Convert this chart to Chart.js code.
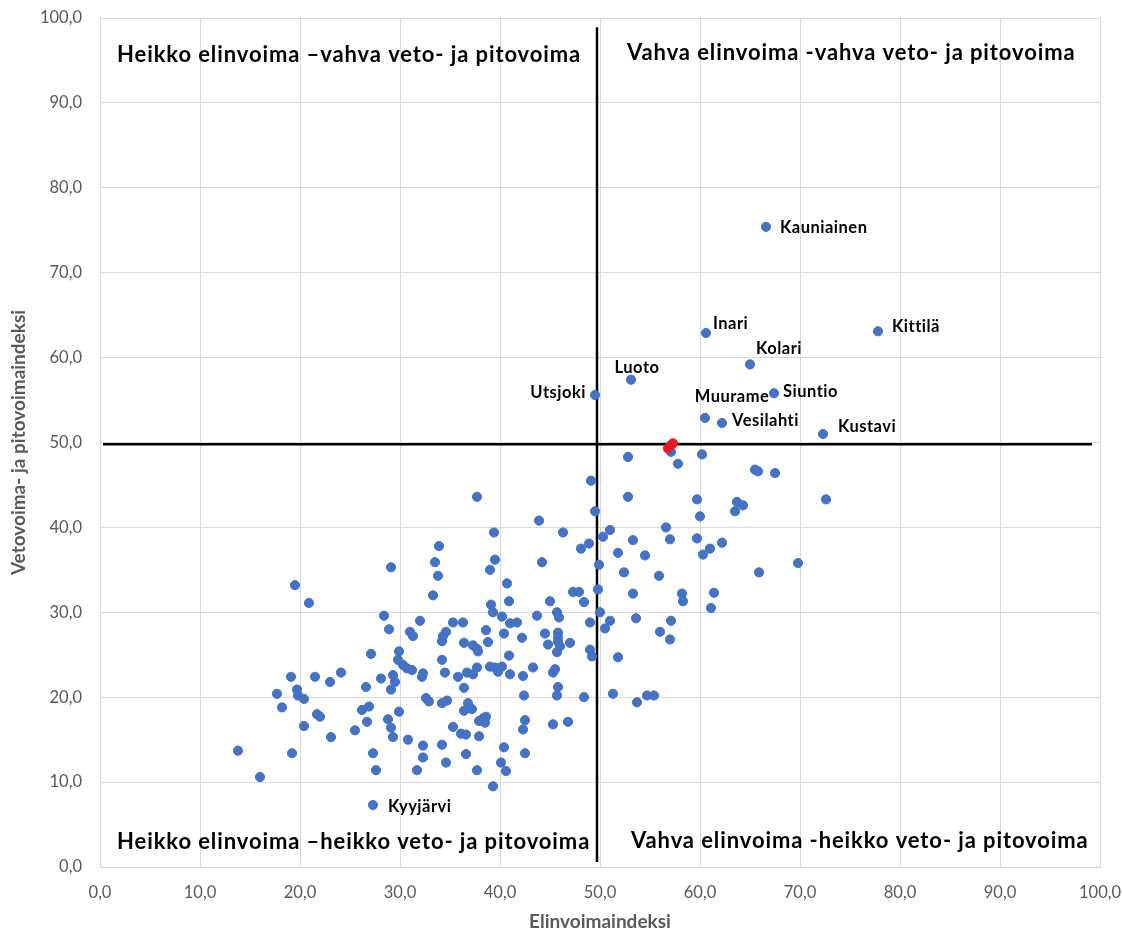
<!DOCTYPE html>
<html>
<head>
<meta charset="utf-8">
<script src="https://cdn.jsdelivr.net/npm/chart.js@4/dist/chart.umd.min.js"></script>
<style>
html,body{margin:0;padding:0;background:#fff;}
#wrap{width:1122px;height:931px;}
</style>
</head>
<body>
<div id="wrap"><canvas id="c" width="1122" height="931"></canvas></div>
<script>
// ---- data ----
const axisTicks = [0,10,20,30,40,50,60,70,80,90,100];
const xTitle = 'Elinvoimaindeksi';
const yTitle = 'Vetovoima- ja pitovoimaindeksi';

const blueX = [57.1,57.8,52.8,60.2,65.5,65.8,67.5,59.7,63.7,64.3,
63.5,72.6,60.0,56.6,57.0,59.7,62.2,61.0,60.3,69.8,
65.9,55.9,58.2,58.3,61.4,61.1,57.1,56.0,57.0,53.6,
54.7,55.4,53.7,49.1,37.7,52.8,49.5,43.9,51.0,50.3,
39.4,46.3,53.3,48.9,48.1,51.8,54.5,33.9,39.5,39.0,
44.2,49.9,52.4,33.5,33.8,40.7,53.3,49.8,47.3,47.9,
40.9,39.1,45.0,48.4,50.0,33.3,19.5,20.9,29.1,28.4,
32.0,28.9,31.0,31.3,27.1,29.9,29.8,30.3,30.7,31.2,
19.1,21.5,24.1,23.0,28.1,29.3,29.5,29.1,32.3,32.2,
26.6,17.7,19.7,19.8,20.4,18.2,32.6,32.9,26.9,26.2,
29.9,21.7,22.0,28.8,29.1,29.3,26.7,20.4,25.5,23.1,
30.8,32.3,32.3,13.8,19.2,27.3,27.6,31.7,16.0,39.3,
40.2,43.7,45.7,45.9,35.3,36.3,41.0,41.7,49.0,51.0,
50.5,34.6,34.3,38.6,40.4,42.2,44.5,45.8,45.8,45.8,
46.0,44.8,47.0,45.7,34.2,36.4,37.3,37.7,37.8,38.8,
40.9,49.0,49.2,51.8,34.2,34.5,35.8,36.7,37.3,37.7,
39.0,39.5,39.8,40.2,41.0,42.3,43.3,45.3,45.5,36.4,
45.8,42.4,45.7,48.4,51.3,34.2,34.7,36.8,37.0,36.4,
37.2,37.9,38.3,38.6,38.5,42.5,42.3,45.3,46.8,35.3,
36.1,36.6,37.9,34.2,36.6,34.6,40.4,42.5,40.1,40.6,
37.7,39.3];
const blueY = [48.9,47.5,48.3,48.6,46.8,46.6,46.4,43.3,43.0,42.6,
41.9,43.3,41.3,40.0,38.6,38.7,38.2,37.5,36.8,35.8,
34.7,34.3,32.2,31.3,32.3,30.5,29.0,27.7,26.8,29.3,
20.2,20.2,19.4,45.5,43.6,43.6,41.9,40.8,39.7,38.9,
39.4,39.4,38.5,38.1,37.5,37.0,36.7,37.8,36.2,35.0,
35.9,35.6,34.7,35.9,34.3,33.4,32.2,32.7,32.4,32.4,
31.3,30.9,31.3,31.2,30.0,32.0,33.2,31.1,35.3,29.6,
29.0,28.0,27.7,27.2,25.1,25.4,24.4,23.8,23.4,23.2,
22.4,22.4,22.9,21.8,22.2,22.6,21.8,20.9,22.8,22.4,
21.2,20.4,20.9,20.2,19.8,18.8,19.9,19.5,18.9,18.5,
18.3,18.0,17.7,17.4,16.4,15.3,17.1,16.6,16.1,15.3,
15.0,14.3,12.9,13.7,13.4,13.4,11.4,11.4,10.6,30.0,
29.5,29.6,30.0,29.4,28.8,28.8,28.7,28.8,28.8,29.0,
28.1,27.7,27.2,27.9,27.5,27.0,27.5,27.6,27.0,26.5,
26.0,26.2,26.4,25.3,26.6,26.4,26.1,25.7,25.4,26.5,
24.9,25.6,24.8,24.7,24.4,22.9,22.4,22.9,22.7,23.5,
23.6,23.5,23.0,23.6,22.7,22.5,23.5,22.9,23.3,21.1,
21.2,20.2,20.2,20.0,20.4,19.3,19.6,19.3,18.7,18.4,
18.6,17.2,17.5,17.7,17.0,17.3,16.2,16.8,17.1,16.5,
15.7,15.6,15.4,14.4,13.3,12.3,14.1,13.4,12.3,11.3,
11.4,9.5];

const namedLabels = ['Kauniainen','Inari','Kittilä','Kolari','Luoto','Utsjoki','Siuntio','Muurame','Vesilahti','Kustavi','Kyyjärvi'];
const namedX = [66.6,60.6,77.8,65.0,53.1,49.5,67.4,60.5,62.2,72.3,27.3];
const namedY = [75.4,62.9,63.1,59.2,57.4,55.6,55.8,52.9,52.3,51.0,7.3];

const redX = [56.8,57.0,57.3];
const redY = [49.3,49.6,49.9];

// quadrant dividers (mean values) and their extents
const dividerX = 49.7;
const dividerY = 49.8;
const vLineY = [0.6, 98.9];
const hLineX = [0.3, 99.2];

const quadrantTexts = [
  'Heikko elinvoima \u2013vahva veto- ja pitovoima',
  'Vahva elinvoima -vahva veto- ja pitovoima',
  'Heikko elinvoima \u2013heikko veto- ja pitovoima',
  'Vahva elinvoima -heikko veto- ja pitovoima'
];

// ---- styling / placement (not data) ----
const labelStyle = {
  'Kauniainen': {dx:14, dy:1, align:'left'},
  'Inari':      {dx:7,  dy:-9, align:'left'},
  'Kittilä':    {dx:14, dy:-5, align:'left'},
  'Kolari':     {dx:6,  dy:-16, align:'left'},
  'Luoto':      {dx:6,  dy:-12, align:'center'},
  'Utsjoki':    {dx:-9, dy:-2, align:'right'},
  'Siuntio':    {dx:9,  dy:-2, align:'left'},
  'Muurame':    {dx:27, dy:-21, align:'center'},
  'Vesilahti':  {dx:10, dy:-2, align:'left'},
  'Kustavi':    {dx:15, dy:-7, align:'left'},
  'Kyyjärvi':   {dx:15, dy:2, align:'left'}
};
const quadrantAnchors = [
  {x:1.7, y:95.7}, {x:52.7, y:95.9}, {x:1.7, y:2.9}, {x:53.1, y:3.1}
];

const FONT = 'Lato, "Open Sans", sans-serif';
const fmt = v => v.toFixed(1).replace('.', ',');

const pts = (xs, ys) => xs.map((x,i) => ({x, y: ys[i]}));

const textPlugin = {
  id: 'textPlugin',
  afterDatasetsDraw(chart) {
    const {ctx, scales:{x, y}} = chart;
    ctx.save();
    ctx.fillStyle = '#000';
    ctx.textBaseline = 'middle';
    ctx.font = 'bold 16.5px ' + FONT;
    if ('letterSpacing' in ctx) ctx.letterSpacing = '0.5px';
    namedLabels.forEach((n, i) => {
      const s = labelStyle[n];
      ctx.textAlign = s.align;
      ctx.fillText(n, x.getPixelForValue(namedX[i]) + s.dx, y.getPixelForValue(namedY[i]) + s.dy);
    });
    ctx.font = 'bold 22px ' + FONT;
    if ('letterSpacing' in ctx) ctx.letterSpacing = '0.9px';
    ctx.textAlign = 'left';
    quadrantTexts.forEach((t, i) => {
      const a = quadrantAnchors[i];
      ctx.fillText(t, x.getPixelForValue(a.x), y.getPixelForValue(a.y));
    });
    if ('letterSpacing' in ctx) ctx.letterSpacing = '0px';
    ctx.restore();
  }
};

const gridColor = '#d9d9d9';
const tickColor = '#595959';

const axis = (title, isY) => ({
  type: 'linear',
  min: 0, max: 100,
  afterBuildTicks: s => { s.ticks = axisTicks.map(v => ({value: v})); },
  ticks: {
    callback: v => fmt(v),
    color: tickColor,
    font: {family: FONT, size: 16.5},
    padding: isY ? 18 : 16,
    autoSkip: false,
    maxRotation: 0
  },
  grid: {color: gridColor, lineWidth: 1, drawTicks: false},
  border: {color: gridColor, width: 1},
  title: {
    display: true, text: title, color: tickColor,
    font: {family: FONT, size: 19, weight: 'bold', lineHeight: 1},
    padding: isY ? {top: 9, bottom: 0} : {top: 0, bottom: 0}
  },
  afterFit: s => {
    if (isY) { s.width = 100; s.paddingTop = 0; s.paddingBottom = 0; }
    else { s.height = 64; s.paddingLeft = 0; s.paddingRight = 0; }
  }
});

new Chart(document.getElementById('c'), {
  type: 'scatter',
  data: {
    datasets: [
      {
        label: 'red', data: pts(redX, redY),
        backgroundColor: 'rgb(232,28,28)', borderColor: 'rgb(232,28,28)',
        pointRadius: 4.6, borderWidth: 1
      },
      {
        label: 'named', data: pts(namedX, namedY),
        backgroundColor: '#4472C4', borderColor: '#4472C4',
        pointRadius: 4.6, borderWidth: 1
      },
      {
        label: 'municipalities', data: pts(blueX, blueY),
        backgroundColor: '#4472C4', borderColor: '#4472C4',
        pointRadius: 4.6, borderWidth: 1
      },
      {
        type: 'line', label: 'vline',
        data: [{x: dividerX, y: vLineY[0]}, {x: dividerX, y: vLineY[1]}],
        borderColor: '#000', borderWidth: 2.5, pointRadius: 0, showLine: true, fill: false
      },
      {
        type: 'line', label: 'hline',
        data: [{x: hLineX[0], y: dividerY}, {x: hLineX[1], y: dividerY}],
        borderColor: '#000', borderWidth: 2.5, pointRadius: 0, showLine: true, fill: false
      }
    ]
  },
  options: {
    responsive: false,
    animation: false,
    devicePixelRatio: 1,
    events: [],
    layout: {padding: {top: 18, right: 22, left: 0, bottom: 0}},
    plugins: {legend: {display: false}, tooltip: {enabled: false}},
    scales: {
      x: axis(xTitle, false),
      y: axis(yTitle, true)
    }
  },
  plugins: [textPlugin]
});
</script>
</body>
</html>
